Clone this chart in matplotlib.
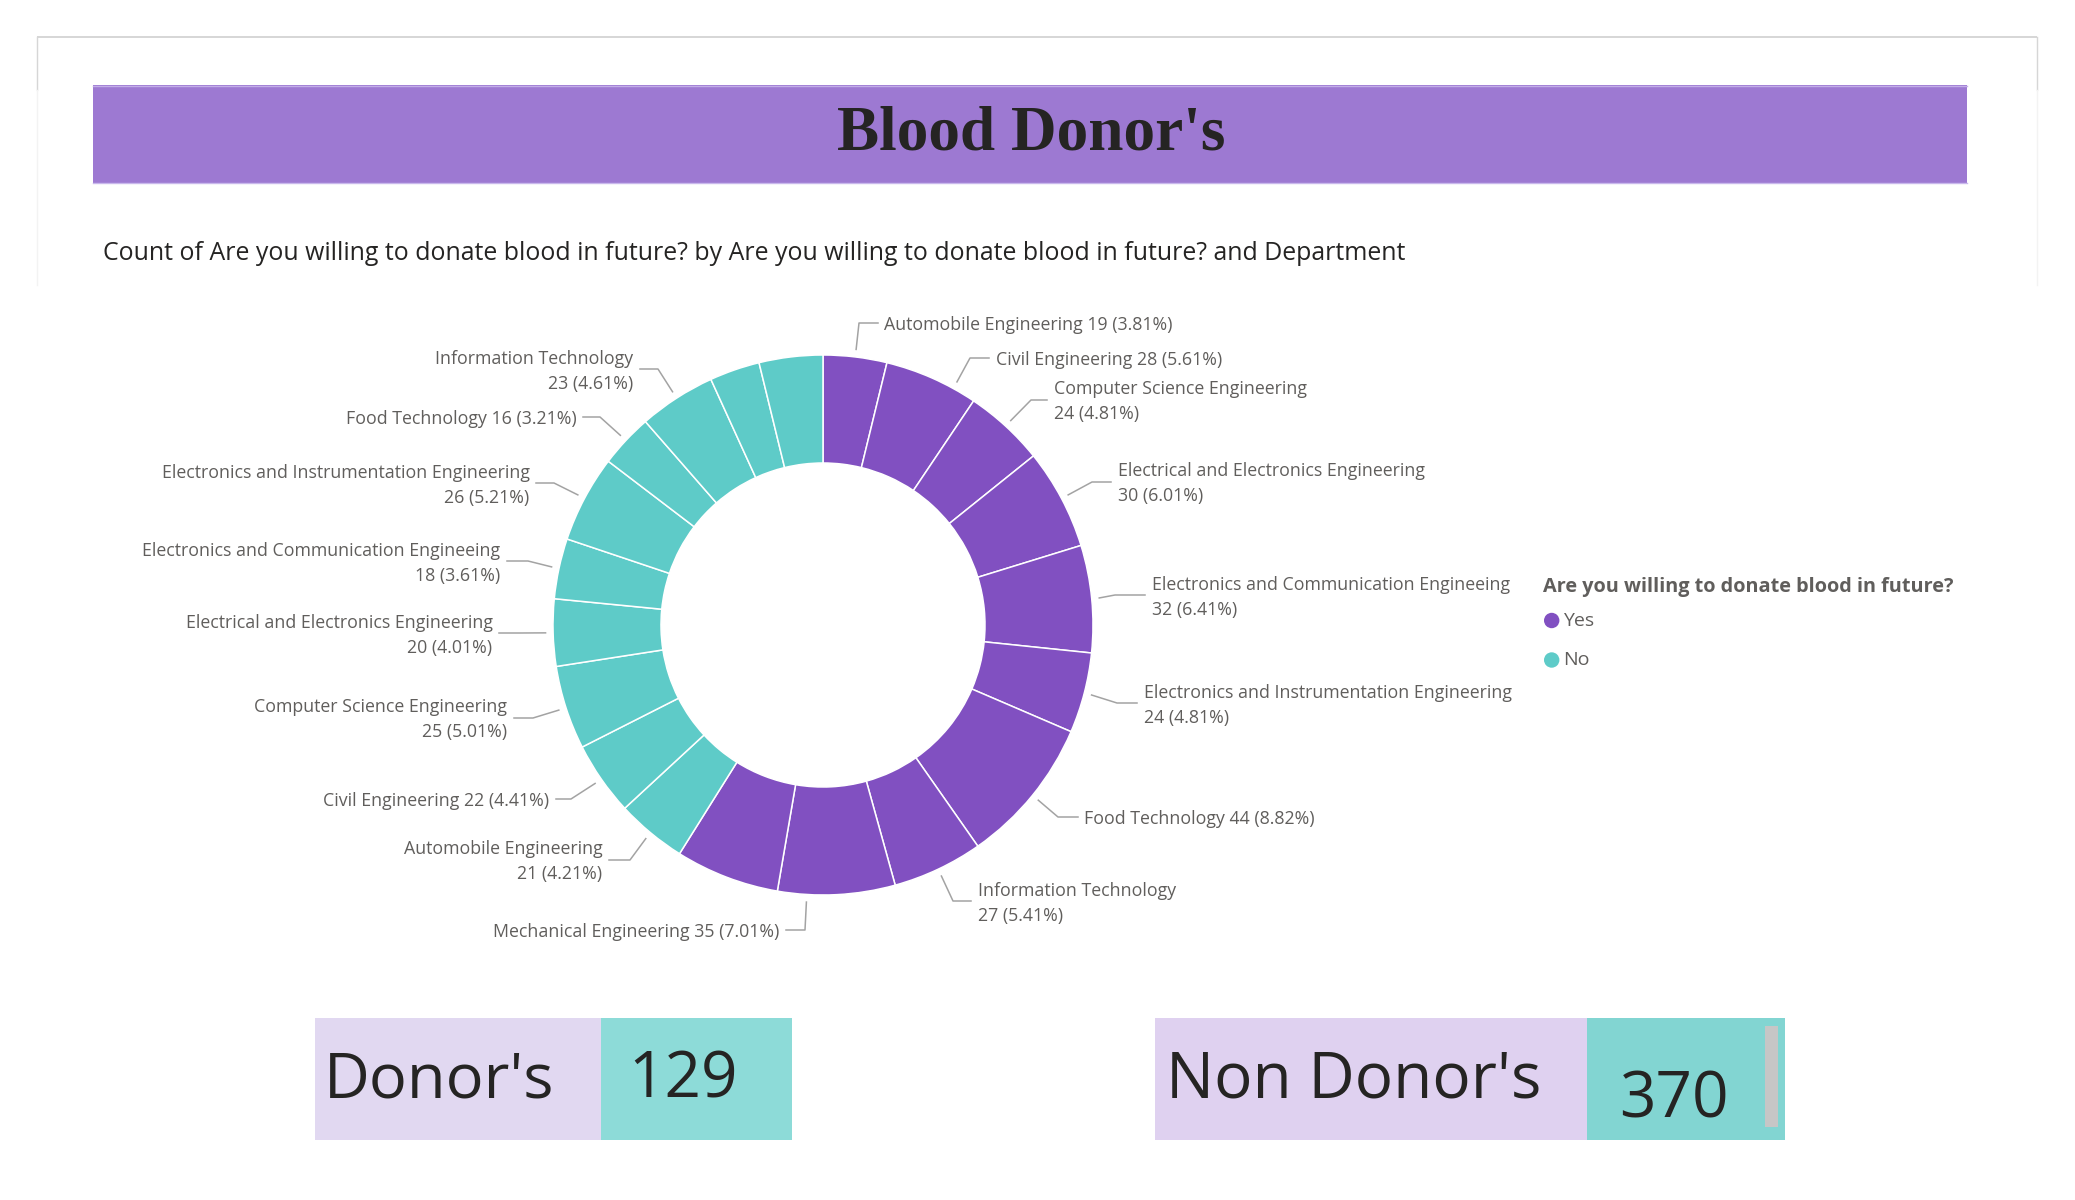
import math
import matplotlib
matplotlib.use("Agg")
import matplotlib.pyplot as plt
from matplotlib.patches import Rectangle, Circle

# ---------------- data ----------------
departments = [
    "Automobile Engineering",
    "Civil Engineering",
    "Computer Science Engineering",
    "Electrical and Electronics Engineering",
    "Electronics and Communication Engineeing",
    "Electronics and Instrumentation Engineering",
    "Food Technology",
    "Information Technology",
    "Mechanical Engineering",
    "Other",
]
series = ["Yes", "No"]
yes_counts = [19, 28, 24, 30, 32, 24, 44, 27, 35, 31]
no_counts = [21, 22, 25, 20, 18, 26, 16, 23, 15, 19]
donor_count = 129
non_donor_count = 370
title_text = "Blood Donor's"
subtitle_text = ("Count of Are you willing to donate blood in future? by "
                 "Are you willing to donate blood in future? and Department")
legend_title = "Are you willing to donate blood in future?"

# ---------------- style / layout ----------------
PURPLE = "#8150C1"
TEAL = "#5ECBC8"
LABEL_GRAY = "#605E5C"
LEADER_GRAY = "#A3A3A3"
DARK = "#252423"
LABEL_FS = 12.75

plt.rcParams['font.family'] = ['Open Sans', 'DejaVu Sans']

W, H = 2075, 1200
# slice index -> (elbow_x, line_y, end_x, wrap, clockwise position of leader within wedge)
LABEL_LAYOUT = {
    0: (859, 323, 878, False, 0.5),
    1: (970, 358, 989, False, 0.75),
    2: (1031, 400, 1047, True, 0.5),
    3: (1092, 482, 1111, True, 0.5),
    4: (1115, 595, 1145, True, 0.5),
    5: (1117, 703, 1137, True, 0.5),
    6: (1058, 817, 1078, False, 0.5),
    7: (953, 901, 971, True, 0.5),
    8: (805, 930, 786, False, 0.75),
    10: (630, 860, 609, True, 0.5),
    11: (571, 799, 556, False, 0.5),
    12: (533, 718, 514, True, 0.5),
    13: (520, 633, 499, True, 0.5),
    14: (528, 561, 507, True, 0.5),
    15: (554, 483, 536, True, 0.5),
    16: (600, 417, 583, False, 0.5),
    17: (658, 369, 640, True, 0.5),
}

fig = plt.figure(figsize=(W / 100, H / 100), dpi=100)
bg = fig.add_axes([0, 0, 1, 1])
bg.set_xlim(0, W)
bg.set_ylim(H, 0)
bg.axis('off')

# card border
bg.plot([37, 2037], [37, 37], color="#CFCFCF", lw=1.2, solid_capstyle='butt')
for xx in (37, 2037):
    bg.plot([xx, xx], [37, 90], color="#D6D6D6", lw=1.0)
    bg.plot([xx, xx], [90, 285], color="#F3F3F3", lw=1.0)

# title band
bg.add_patch(Rectangle((93, 85), 1874, 98, facecolor="#9D79D2", edgecolor="none"))
bg.plot([93, 1967], [85.5, 85.5], color="#C3AEE8", lw=1.0)
bg.plot([93, 1967], [182.5, 182.5], color="#C9B8EC", lw=1.0)
bg.text(1031, 149, title_text, ha='center', va='baseline', fontsize=45.5,
        fontweight='bold', family=['Liberation Serif', 'DejaVu Serif'], color=DARK)

# subtitle
bg.text(103, 253, subtitle_text, ha='left', va='center', fontsize=17.9,
        fontweight='medium', color=DARK)

# ---------------- donut ----------------
cx, cy, R = 823, 625, 270
dax = fig.add_axes([(cx - R) / W, (H - cy - R) / H, 2 * R / W, 2 * R / H])
values = yes_counts + no_counts
colors = [PURPLE] * len(yes_counts) + [TEAL] * len(no_counts)
wedges, _ = dax.pie(values, colors=colors, startangle=90, counterclock=False,
                    radius=1.0, wedgeprops=dict(width=0.4, edgecolor='white', linewidth=1.1))
dax.set_xlim(-1, 1)
dax.set_ylim(-1, 1)
dax.axis('off')

total = sum(values)
names = departments + departments
to_bg = bg.transData.inverted()
for idx, lay in LABEL_LAYOUT.items():
    ex, ly, endx, wrap, frac = lay
    w = wedges[idx]
    # slices run clockwise: from theta2 down to theta1
    ang = math.radians(w.theta2 - (w.theta2 - w.theta1) * frac)
    p = dax.transData.transform((1.028 * math.cos(ang), 1.028 * math.sin(ang)))
    sx, sy = to_bg.transform(p)
    bg.plot([sx, ex, endx], [sy, ly, ly], color=LEADER_GRAY, lw=1.1)
    v = values[idx]
    pct = v / total * 100
    right = endx > ex
    tx = endx + 6.5 if right else endx - 6.5
    ha = 'left' if right else 'right'
    if wrap:
        bg.text(tx, ly - 10.5, names[idx], ha=ha, va='center', fontsize=LABEL_FS, color=LABEL_GRAY)
        bg.text(tx, ly + 14.5, f"{v} ({pct:.2f}%)", ha=ha, va='center', fontsize=LABEL_FS,
                color=LABEL_GRAY)
    else:
        bg.text(tx, ly + 2, f"{names[idx]} {v} ({pct:.2f}%)", ha=ha, va='center',
                fontsize=LABEL_FS, color=LABEL_GRAY)

# ---------------- legend ----------------
bg.text(1543, 587, legend_title, ha='left', va='center', fontsize=14.3,
        fontweight='bold', color=LABEL_GRAY)
for name, col, yy in zip(series, [PURPLE, TEAL], [620.5, 660]):
    bg.add_patch(Circle((1551.7, yy), 7.7, facecolor=col, edgecolor='none'))
    bg.text(1563, yy, name, ha='left', va='center', fontsize=14, color=LABEL_GRAY)

# ---------------- cards ----------------
bg.add_patch(Rectangle((315, 1018), 286, 122, facecolor="#E1D8F1", edgecolor='none'))
bg.add_patch(Rectangle((601, 1018), 191, 122, facecolor="#8DDBD8", edgecolor='none'))
bg.add_patch(Rectangle((1155, 1018), 432, 122, facecolor="#DFD1F0", edgecolor='none'))
bg.add_patch(Rectangle((1587, 1018), 198, 122, facecolor="#82D5D2", edgecolor='none'))
bg.add_patch(Rectangle((1765, 1026), 13, 101, facecolor="#C6C6C6", edgecolor='none'))

bg.text(324, 1098, "Donor's", ha='left', va='baseline', fontsize=45.5, color=DARK)
bg.text(628, 1098, f"{donor_count}", ha='left', va='baseline', fontsize=46, color=DARK)
bg.text(1166, 1098, "Non Donor's", ha='left', va='baseline', fontsize=46, color=DARK)
bg.text(1619, 1117, f"{non_donor_count}", ha='left', va='baseline', fontsize=46, color=DARK)

fig.savefig("out.png", dpi=100)
